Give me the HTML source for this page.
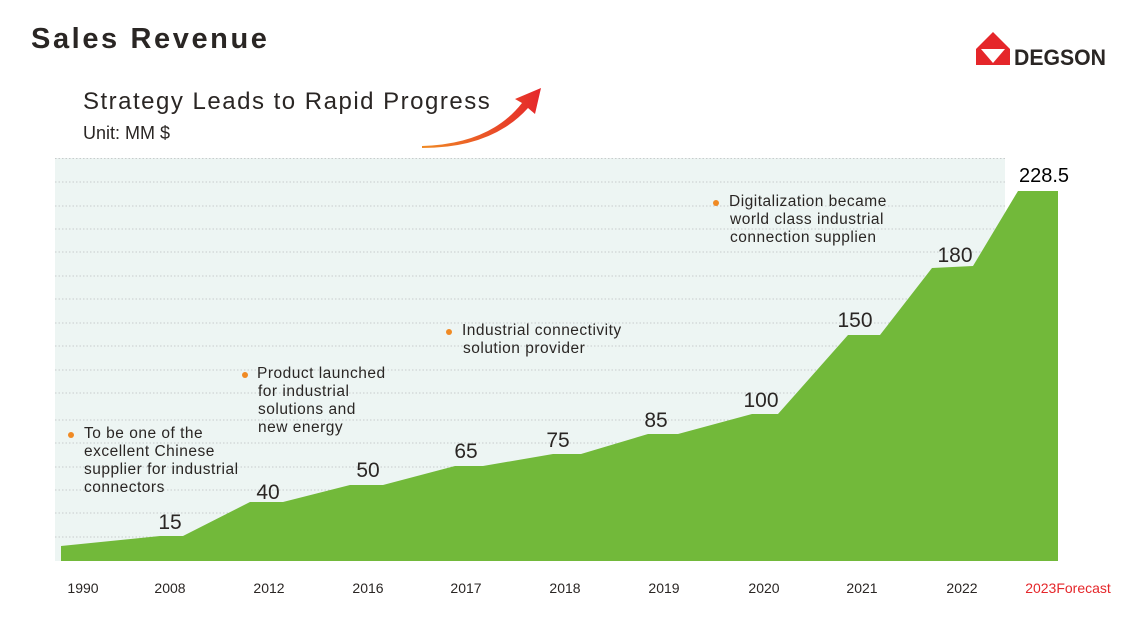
<!DOCTYPE html>
<html><head><meta charset="utf-8"><style>
body{margin:0;width:1132px;height:612px;background:#fff;overflow:hidden;font-family:"Liberation Sans",Arial,sans-serif}
</style></head><body>
<svg width="1132" height="612" xmlns="http://www.w3.org/2000/svg" font-family="Liberation Sans, Arial, sans-serif">
<defs><linearGradient id="ag" x1="0" x2="1"><stop offset="0" stop-color="#f08a24"/><stop offset="1" stop-color="#e5262a"/></linearGradient></defs>
<text x="31" y="48" font-size="29" font-weight="bold" fill="#2a2624" letter-spacing="2.6">Sales Revenue</text>
<text x="83" y="109" font-size="24" fill="#2a2624" letter-spacing="1.5">Strategy Leads to Rapid Progress</text>
<text x="83" y="139" font-size="18" fill="#2a2624">Unit: MM $</text>
<path d="M422 146 Q490 144 522 103 L515 99 L541 88 L535 114 L528 108 Q492 148 422 148 Z" fill="url(#ag)"/>
<g>
<polygon points="976,49 993,32 1010,49 1010,65 976,65" fill="#e5262a"/>
<polygon points="981,49 1005,49 993,63" fill="#fff"/>
<text x="1014" y="65" font-size="22" font-weight="bold" fill="#2a2624" textLength="92" lengthAdjust="spacingAndGlyphs">DEGSON</text>
</g>
<rect x="55" y="158" width="950" height="403" fill="#edf5f3"/>
<g stroke="#c8cccc" stroke-dasharray="1.5,2" stroke-width="1">
<line x1="55" y1="158.5" x2="1005" y2="158.5"/><line x1="55" y1="182" x2="1005" y2="182"/><line x1="55" y1="206" x2="1005" y2="206"/><line x1="55" y1="229" x2="1005" y2="229"/><line x1="55" y1="252" x2="1005" y2="252"/><line x1="55" y1="276" x2="1005" y2="276"/><line x1="55" y1="299" x2="1005" y2="299"/><line x1="55" y1="323" x2="1005" y2="323"/><line x1="55" y1="346" x2="1005" y2="346"/><line x1="55" y1="370" x2="1005" y2="370"/><line x1="55" y1="393" x2="1005" y2="393"/><line x1="55" y1="420" x2="1005" y2="420"/><line x1="55" y1="443" x2="1005" y2="443"/><line x1="55" y1="467" x2="1005" y2="467"/><line x1="55" y1="490" x2="1005" y2="490"/><line x1="55" y1="513" x2="1005" y2="513"/><line x1="55" y1="537" x2="1005" y2="537"/>
</g>
<polygon points="61,546 160,536 183,536 250,502 283,502 350,485 383,485 455,466 483,466 553,454 581,454 648,434 678,434 752,414 778,414 848,335 880,335 932,268 973,266 1018,191 1058,191 1058,561 61,561" fill="#72b93a"/>
<rect x="1006" y="153" width="80" height="38" fill="#fff"/>
<text x="1044" y="182" font-size="20" text-anchor="middle" fill="#000">228.5</text>
<g font-size="21" fill="#2a2624" text-anchor="middle">
<text x="170" y="529">15</text><text x="268" y="499">40</text><text x="368" y="477">50</text><text x="466" y="458">65</text><text x="558" y="447">75</text><text x="656" y="427">85</text><text x="761" y="407">100</text><text x="855" y="327">150</text><text x="955" y="262">180</text>
</g>
<g font-size="14" fill="#2a2624" text-anchor="middle">
<text x="83" y="593">1990</text><text x="170" y="593">2008</text><text x="269" y="593">2012</text><text x="368" y="593">2016</text><text x="466" y="593">2017</text><text x="565" y="593">2018</text><text x="664" y="593">2019</text><text x="764" y="593">2020</text><text x="862" y="593">2021</text><text x="962" y="593">2022</text>
<text x="1068" y="593" fill="#e5262a">2023Forecast</text>
</g>
<g font-size="15.5" fill="#2a2624" letter-spacing="0.5">
<circle cx="71" cy="435" r="3" fill="#f08a24"/>
<text x="84" y="438">To be one of the</text><text x="84" y="456">excellent Chinese</text><text x="84" y="474">supplier for industrial</text><text x="84" y="492">connectors</text>
<circle cx="245" cy="375" r="3" fill="#f08a24"/>
<text x="257" y="378">Product launched</text><text x="258" y="396">for industrial</text><text x="258" y="414">solutions and</text><text x="258" y="432">new energy</text>
<circle cx="449" cy="332" r="3" fill="#f08a24"/>
<text x="462" y="335">Industrial connectivity</text><text x="463" y="353">solution provider</text>
<circle cx="716" cy="203" r="3" fill="#f08a24"/>
<text x="729" y="206">Digitalization became</text><text x="730" y="224">world class industrial</text><text x="730" y="242">connection supplien</text>
</g>
</svg>
</body></html>
